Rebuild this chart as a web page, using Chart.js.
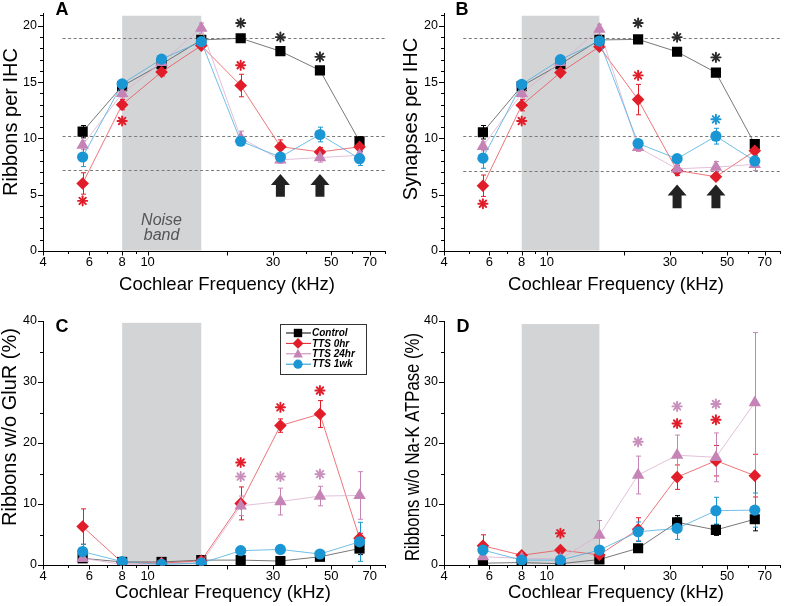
<!DOCTYPE html>
<html>
<head>
<meta charset="utf-8">
<script src="https://cdn.jsdelivr.net/npm/chart.js@4.4.1/dist/chart.umd.min.js"></script>
<style>
html, body { margin: 0; padding: 0; background: #fff; }
#wrap { position: relative; width: 787px; height: 606px; }
canvas { position: absolute; }
</style>
</head>
<body>
<div id="wrap">
  <canvas id="cA" width="393" height="300" style="left:0;top:0"></canvas>
  <canvas id="cB" width="394" height="300" style="left:393px;top:0"></canvas>
  <canvas id="cC" width="393" height="306" style="left:0;top:300px"></canvas>
  <canvas id="cD" width="394" height="306" style="left:393px;top:300px"></canvas>
</div>
<script>
// cochlear frequencies (kHz), half-octave steps
var freq = [5.66, 8, 11.3, 16, 22.6, 32, 45.25, 64];
var seriesNames = ['Control', 'TTS 0hr', 'TTS 24hr', 'TTS 1wk'];
var xLabelTicks = [4, 6, 8, 10, 30, 50, 70];
var xAllTicks = [4, 5, 6, 7, 8, 9, 10, 20, 30, 40, 50, 60, 70, 80];
var noiseBand = [8, 16];

// A: ribbons per IHC
var A_ctrl  = [10.6, 14.65, 16.6, 18.75, 18.9, 17.75, 16.05, 9.75];
var A_tts0  = [6.0, 13.0, 15.9, 18.25, 14.7, 9.27, 8.8, 9.25];
var A_tts24 = [9.4, 14.0, 16.75, 19.8, 10.05, 8.1, 8.3, 8.5];
var A_tts1w = [8.35, 14.85, 17.05, 18.6, 9.75, 8.35, 10.35, 8.2];
var A_ctrl_err  = [0.55, 0.3, 0.3, 0.3, 0.3, 0.3, 0.3, 0.4];
var A_tts0_err  = [0.95, 0.45, 0.35, 0.3, 1.0, 0.6, 0.4, 0.4];
var A_tts24_err = [0.4, 0.4, 0.3, 0.45, 0.6, 0.3, 0.4, 0.4];
var A_tts1w_err = [0.85, 0.3, 0.3, 0.3, 0.3, 0.3, 0.65, 0.6];

// B: synapses per IHC
var B_ctrl  = [10.55, 14.65, 16.6, 18.75, 18.8, 17.7, 15.85, 9.5];
var B_tts0  = [5.8, 12.95, 15.85, 18.15, 13.45, 7.15, 6.6, 8.9];
var B_tts24 = [9.3, 14.0, 16.75, 19.7, 9.2, 7.3, 7.45, 7.7];
var B_tts1w = [8.25, 14.8, 17.0, 18.65, 9.55, 8.2, 10.2, 8.0];
var B_ctrl_err  = [0.6, 0.3, 0.3, 0.3, 0.3, 0.3, 0.35, 0.4];
var B_tts0_err  = [0.95, 0.5, 0.35, 0.3, 1.35, 0.45, 0.3, 0.4];
var B_tts24_err = [0.4, 0.4, 0.3, 0.45, 0.35, 0.35, 0.5, 0.55];
var B_tts1w_err = [0.9, 0.3, 0.3, 0.3, 0.3, 0.3, 0.7, 0.5];

// C: ribbons w/o GluR (%)
var C_ctrl  = [1.1, 0.5, 0.5, 0.8, 0.8, 0.65, 1.35, 2.7];
var C_tts0  = [6.3, 0.4, 0.3, 0.7, 10.1, 22.85, 24.75, 4.4];
var C_tts24 = [1.1, 0.1, 0.15, 0.3, 9.7, 10.4, 11.3, 11.4];
var C_tts1w = [2.2, 0.55, 0.1, 0.3, 2.35, 2.55, 1.8, 3.8];
var C_ctrl_err  = [0.5, 0.2, 0.2, 0.3, 0.3, 0.3, 0.4, 1.0];
var C_tts0_err  = [2.9, 0.2, 0.2, 0.3, 2.7, 1.1, 2.2, 0.8];
var C_tts24_err = [0.5, 0.2, 0.2, 0.3, 1.6, 2.2, 1.6, 3.9];
var C_tts1w_err = [1.2, 0.2, 0.2, 0.3, 0.4, 0.4, 0.4, 3.2];

// D: ribbons w/o Na-K ATPase (%)
var D_ctrl  = [0.3, 0.4, 0.2, 0.9, 2.75, 7.0, 5.75, 7.5];
var D_tts0  = [3.15, 1.6, 2.45, 1.65, 5.85, 14.4, 17.1, 14.65];
var D_tts24 = [1.35, 1.1, 1.0, 4.9, 14.75, 18.0, 17.65, 26.6];
var D_tts1w = [2.45, 0.8, 0.8, 2.45, 5.45, 6.0, 8.9, 9.0];
var D_ctrl_err  = [0.3, 0.3, 0.3, 0.4, 0.5, 1.1, 0.9, 1.9];
var D_tts0_err  = [1.8, 0.4, 0.5, 0.5, 1.9, 2.0, 2.5, 3.5];
var D_tts24_err = [0.6, 0.4, 0.5, 2.4, 3.1, 3.3, 4.0, 11.5];
var D_tts1w_err = [0.8, 0.4, 0.5, 0.5, 1.6, 1.8, 2.2, 2.8];

// significance asterisks: [freq, y, series index]
var A_stars = [[22.6, 20.25, 0], [32, 19.0, 0], [45.25, 17.25, 0], [22.6, 16.5, 1], [8, 11.55, 1], [5.66, 4.45, 1]];
var B_stars = [[22.6, 20.25, 0], [32, 19.0, 0], [45.25, 17.2, 0], [22.6, 15.6, 1], [8, 11.55, 1], [5.66, 4.2, 1], [45.25, 11.7, 3]];
var C_stars = [[22.6, 16.8, 1], [22.6, 14.5, 2], [32, 25.85, 1], [32, 14.5, 2], [45.25, 28.6, 1], [45.25, 14.9, 2]];
var D_stars = [[22.6, 20.2, 2], [32, 26.0, 2], [32, 23.2, 1], [45.25, 26.4, 2], [45.25, 23.8, 1], [11.3, 5.2, 1]];

// arrows: [freq, bottom, top]
var A_arrows = [[32, 4.83, 6.85], [45.25, 4.83, 6.85]];
var B_arrows = [[32, 3.8, 5.9], [45.25, 3.8, 5.9]];

// dashed reference levels
var A_refs = [18.9, 10.2, 7.2];
var B_refs = [18.9, 10.2, 7.15];

var colors = ['#000000', '#e11d2a', '#c684b6', '#1b96d4'];
var lineColors = ['#555555', '#ea5058', '#dbb0d0', '#4daee0'];
var starColors = ['#2b2b2b', '#e11d2a', '#c98fbc', '#1b96d4'];
var styles = ['rect', 'rectRot', 'triangle', 'circle'];
var radii = [7.2, 6.3, 7.2, 5.6];
var FONT = "'Liberation Sans', Arial, Helvetica, sans-serif";

function drawStar(ctx, x, y, color) {
    ctx.save();
    ctx.strokeStyle = color;
    ctx.lineWidth = 1.9;
    ctx.lineCap = 'round';
    for (var k = 0; k < 4; k++) {
        var a = k * Math.PI / 4;
        ctx.beginPath();
        ctx.moveTo(x - 4.6 * Math.cos(a), y - 4.6 * Math.sin(a));
        ctx.lineTo(x + 4.6 * Math.cos(a), y + 4.6 * Math.sin(a));
        ctx.stroke();
    }
    ctx.restore();
}

function drawArrow(ctx, x, yb, yt) {
    ctx.save();
    ctx.fillStyle = '#222';
    ctx.beginPath();
    ctx.moveTo(x, yt);
    ctx.lineTo(x + 9.5, yt + 11);
    ctx.lineTo(x + 4.5, yt + 11);
    ctx.lineTo(x + 4.5, yb);
    ctx.lineTo(x - 4.5, yb);
    ctx.lineTo(x - 4.5, yt + 11);
    ctx.lineTo(x - 9.5, yt + 11);
    ctx.closePath();
    ctx.fill();
    ctx.restore();
}

function legendMarker(ctx, style, x, y, r, color) {
    ctx.fillStyle = color;
    ctx.beginPath();
    if (style === 'rect') {
        ctx.rect(x - r, y - r, 2 * r, 2 * r);
    } else if (style === 'rectRot') {
        ctx.moveTo(x, y - r * 1.3); ctx.lineTo(x + r * 1.3, y); ctx.lineTo(x, y + r * 1.3); ctx.lineTo(x - r * 1.3, y);
    } else if (style === 'triangle') {
        ctx.moveTo(x, y - r * 1.2); ctx.lineTo(x + r * 1.15, y + r * 0.9); ctx.lineTo(x - r * 1.15, y + r * 0.9);
    } else {
        ctx.arc(x, y, r * 1.1, 0, Math.PI * 2);
    }
    ctx.closePath();
    ctx.fill();
}

var decoPlugin = {
    id: 'deco',
    beforeDatasetsDraw: function(chart) {
        var p = chart.options.plugins.deco;
        var ctx = chart.ctx, xs = chart.scales.x, ys = chart.scales.y;
        var x0 = xs.getPixelForValue(noiseBand[0]), x1 = xs.getPixelForValue(noiseBand[1]);
        var yt = ys.getPixelForValue(p.bandTop), yb = ys.getPixelForValue(0) - 0.5;
        ctx.save();
        ctx.fillStyle = '#d3d4d6';
        ctx.fillRect(x0, yt, x1 - x0, yb - yt);

        if (p.refs) {
            ctx.strokeStyle = '#7a7a7a';
            ctx.lineWidth = 1;
            ctx.setLineDash([3, 2.5]);
            p.refs.forEach(function(v) {
                var py = Math.round(ys.getPixelForValue(v)) + 0.5;
                ctx.beginPath();
                ctx.moveTo(xs.getPixelForValue(4.75), py);
                ctx.lineTo(xs.getPixelForValue(80), py);
                ctx.stroke();
            });
            ctx.setLineDash([]);
        }

        // error bars
        chart.data.datasets.forEach(function(ds, i) {
            ctx.strokeStyle = colors[i];
            ctx.lineWidth = 1;
            ds.data.forEach(function(pt, j) {
                var e = ds.err[j];
                var px = Math.round(xs.getPixelForValue(pt.x)) + 0.5;
                var ylo = ys.getPixelForValue(Math.max(0, pt.y - e));
                var yhi = ys.getPixelForValue(pt.y + e);
                ctx.beginPath();
                ctx.moveTo(px, ylo); ctx.lineTo(px, yhi);
                ctx.moveTo(px - 2.5, yhi); ctx.lineTo(px + 2.5, yhi);
                ctx.moveTo(px - 2.5, ylo); ctx.lineTo(px + 2.5, ylo);
                ctx.stroke();
            });
        });
        ctx.restore();
    },
    afterDraw: function(chart) {
        var p = chart.options.plugins.deco;
        var ctx = chart.ctx, xs = chart.scales.x, ys = chart.scales.y;
        var area = chart.chartArea;
        ctx.save();
        // tick marks
        ctx.strokeStyle = '#000';
        ctx.lineWidth = 1;
        var bottom = ys.getPixelForValue(0);
        xAllTicks.forEach(function(v) {
            var px = Math.round(xs.getPixelForValue(v)) + 0.5;
            var len = (xLabelTicks.indexOf(v) >= 0 || v === 20) ? 4.5 : 3;
            ctx.beginPath(); ctx.moveTo(px, bottom); ctx.lineTo(px, bottom + len); ctx.stroke();
        });
        for (var v = 0; v <= p.ymaxTick; v += p.yMinor) {
            var py = Math.round(ys.getPixelForValue(v)) + 0.5;
            var major = Math.abs(v % p.yMajor) < 1e-6;
            ctx.beginPath(); ctx.moveTo(area.left, py); ctx.lineTo(area.left - (major ? 5 : 3), py); ctx.stroke();
        }

        // arrows and stars
        (p.arrows || []).forEach(function(a) {
            drawArrow(ctx, xs.getPixelForValue(a[0]), ys.getPixelForValue(a[1]), ys.getPixelForValue(a[2]));
        });
        p.stars.forEach(function(s) {
            drawStar(ctx, xs.getPixelForValue(s[0]), ys.getPixelForValue(s[1]), starColors[s[2]]);
        });

        // titles
        ctx.fillStyle = '#000';
        ctx.textAlign = 'center';
        ctx.textBaseline = 'middle';
        ctx.font = '18.5px ' + FONT;
        ctx.fillText('Cochlear Frequency (kHz)', p.xTitle[0], p.xTitle[1]);
        ctx.save();
        ctx.translate(p.yTitle[0], p.yTitle[1]);
        ctx.rotate(-Math.PI / 2);
        ctx.font = '20px ' + FONT;
        ctx.fillText(p.yText, 0, 0, p.yMaxW || undefined);
        ctx.restore();
        ctx.font = 'bold 18px ' + FONT;
        ctx.fillText(p.letter, p.letterPos[0], p.letterPos[1]);

        if (p.noise) {
            ctx.fillStyle = '#555';
            ctx.font = 'italic 16px ' + FONT;
            var nx = xs.getPixelForValue(11.3);
            ctx.fillText('Noise', nx, 221);
            ctx.fillText('band', nx, 236);
        }

        if (p.legend) {
            var L = p.legend;
            ctx.fillStyle = '#fff';
            ctx.fillRect(L.x, L.y, L.w, L.h);
            ctx.strokeStyle = '#333';
            ctx.lineWidth = 1;
            ctx.strokeRect(L.x + 0.5, L.y + 0.5, L.w, L.h);
            ctx.textAlign = 'left';
            ctx.font = 'bold italic 10px ' + FONT;
            seriesNames.forEach(function(name, i) {
                var ry = L.y + 9 + i * 10.4;
                ctx.strokeStyle = colors[i];
                ctx.beginPath(); ctx.moveTo(L.x + 6, ry); ctx.lineTo(L.x + 31, ry); ctx.stroke();
                legendMarker(ctx, styles[i], L.x + 18, ry, 4.2, colors[i]);
                ctx.fillStyle = '#000';
                ctx.fillText(name, L.x + 32, ry + 0.5);
            });
        }
        ctx.restore();
    }
};

function makePanel(id, values, errors, cfg) {
    var datasets = values.map(function(vals, i) {
        return {
            label: seriesNames[i],
            data: freq.map(function(f, j) { return { x: f, y: vals[j] }; }),
            err: errors[i],
            borderColor: lineColors[i],
            backgroundColor: colors[i],
            pointBackgroundColor: colors[i],
            pointBorderColor: colors[i],
            pointBorderWidth: 0,
            pointStyle: styles[i],
            pointRadius: radii[i],
            borderWidth: 0.8,
            tension: 0,
            order: 4 - i
        };
    });
    return new Chart(document.getElementById(id), {
        type: 'line',
        data: { datasets: datasets },
        plugins: [decoPlugin],
        options: {
            responsive: false,
            animation: false,
            devicePixelRatio: 1,
            layout: { padding: cfg.padding },
            plugins: {
                legend: { display: false },
                tooltip: { enabled: false },
                deco: cfg.deco
            },
            scales: {
                x: {
                    type: 'logarithmic',
                    min: 4,
                    max: 80,
                    afterBuildTicks: function(s) {
                        s.ticks = xLabelTicks.map(function(v) { return { value: v }; });
                    },
                    afterFit: function(s) { s.height = cfg.xh; },
                    ticks: {
                        autoSkip: false, maxRotation: 0, padding: 4, color: '#000',
                        font: { family: FONT, size: 13 },
                        callback: function(v) { return String(v); }
                    },
                    grid: { display: false, drawTicks: false },
                    border: { display: true, color: '#000', width: 1 }
                },
                y: {
                    min: 0,
                    max: cfg.ymax,
                    afterBuildTicks: function(s) {
                        s.ticks = cfg.yTicks.map(function(v) { return { value: v }; });
                    },
                    afterFit: function(s) { s.width = cfg.yw; },
                    ticks: {
                        autoSkip: false, padding: 6, color: '#000',
                        font: { family: FONT, size: 12.5 }
                    },
                    grid: { display: false, drawTicks: false },
                    border: { display: true, color: '#000', width: 1 }
                }
            }
        }
    });
}

makePanel('cA', [A_ctrl, A_tts0, A_tts24, A_tts1w], [A_ctrl_err, A_tts0_err, A_tts24_err, A_tts1w_err], {
    padding: { left: 0, top: 6, right: 8, bottom: 0 }, xh: 49, yw: 43, ymax: 21.1,
    yTicks: [0, 5, 10, 15, 20],
    deco: { bandTop: 20.9, refs: A_refs, stars: A_stars, arrows: A_arrows, noise: true,
            ymaxTick: 21, yMinor: 1, yMajor: 5,
            xTitle: [227, 285], yTitle: [11, 122], yText: 'Ribbons per IHC', letter: 'A', letterPos: [62, 10] }
});
makePanel('cB', [B_ctrl, B_tts0, B_tts24, B_tts1w], [B_ctrl_err, B_tts0_err, B_tts24_err, B_tts1w_err], {
    padding: { left: 0, top: 6, right: 2, bottom: 0 }, xh: 49, yw: 51, ymax: 21.1,
    yTicks: [0, 5, 10, 15, 20],
    deco: { bandTop: 20.9, refs: B_refs, stars: B_stars, arrows: B_arrows,
            ymaxTick: 21, yMinor: 1, yMajor: 5,
            xTitle: [223, 285], yTitle: [18, 119], yText: 'Synapses per IHC', letter: 'B', letterPos: [69, 10] }
});
makePanel('cC', [C_ctrl, C_tts0, C_tts24, C_tts1w], [C_ctrl_err, C_tts0_err, C_tts24_err, C_tts1w_err], {
    padding: { left: 0, top: 21, right: 8, bottom: 0 }, xh: 41, yw: 43, ymax: 40,
    yTicks: [0, 10, 20, 30, 40],
    deco: { bandTop: 39.7, stars: C_stars,
            ymaxTick: 40, yMinor: 5, yMajor: 10,
            legend: { x: 280, y: 24, w: 86, h: 50 },
            xTitle: [223, 293], yTitle: [10, 127], yText: 'Ribbons w/o GluR (%)', letter: 'C', letterPos: [62, 27] }
});
makePanel('cD', [D_ctrl, D_tts0, D_tts24, D_tts1w], [D_ctrl_err, D_tts0_err, D_tts24_err, D_tts1w_err], {
    padding: { left: 0, top: 21, right: 2, bottom: 0 }, xh: 41, yw: 51, ymax: 40,
    yTicks: [0, 10, 20, 30, 40],
    deco: { bandTop: 39.5, stars: D_stars,
            ymaxTick: 40, yMinor: 5, yMajor: 10,
            xTitle: [223, 293], yTitle: [20, 147], yText: 'Ribbons w/o Na-K ATPase (%)', yMaxW: 228, letter: 'D', letterPos: [70, 27] }
});
</script>
</body>
</html>
